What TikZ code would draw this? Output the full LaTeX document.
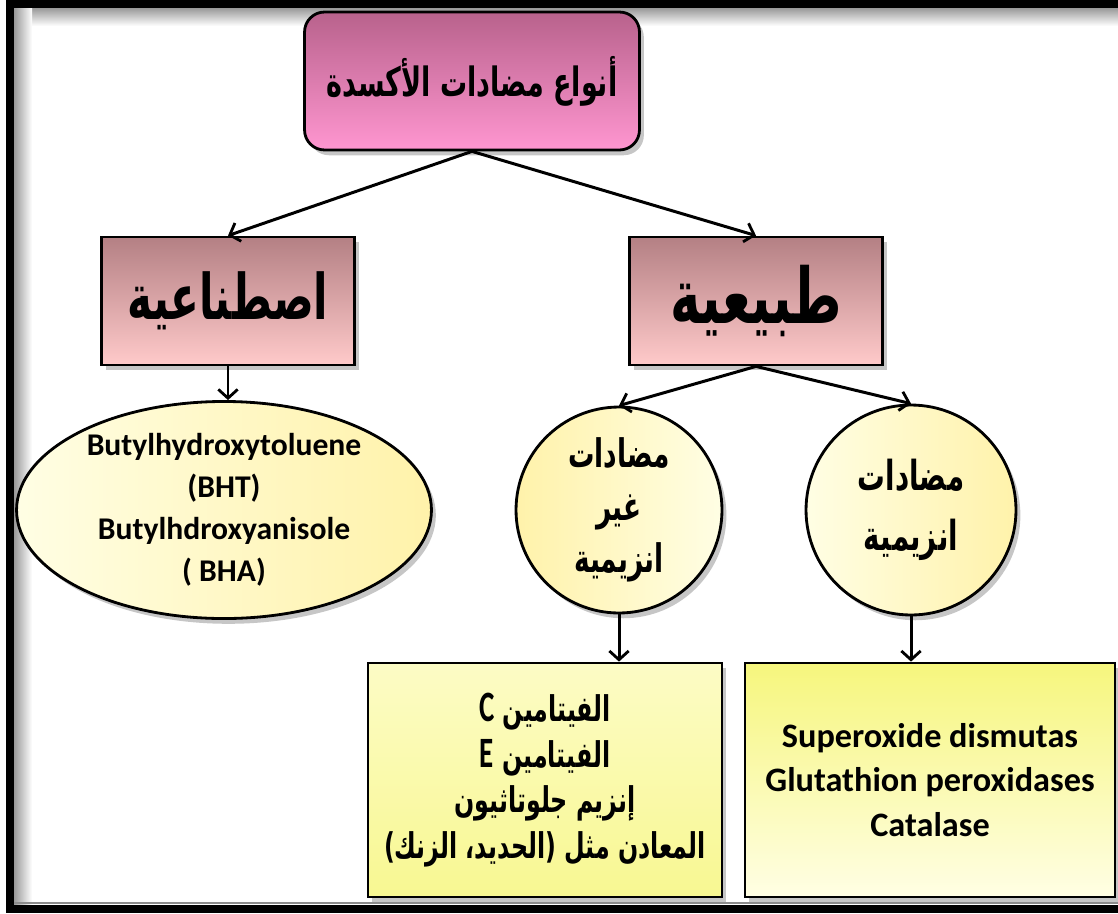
\documentclass[tikz,border=0pt]{standalone}
\usepackage{graphicx}
\usepackage{fontspec}
\setmainfont{Carlito}
\newfontfamily\arabicfont[Script=Arabic]{DejaVu Sans}
\TeXXeTstate=1
\usetikzlibrary{shapes.geometric, arrows.meta, shadows}

\definecolor{titletop}{RGB}{184,98,140}
\definecolor{titlebot}{RGB}{255,150,208}
\definecolor{kindtop}{RGB}{180,128,132}
\definecolor{kindbot}{RGB}{255,202,202}
\definecolor{paleyel}{RGB}{255,254,228}
\definecolor{midyel}{RGB}{255,242,170}
\definecolor{boxyel}{RGB}{246,246,125}

\newcommand{\ar}[1]{\scalebox{0.75}[1.12]{\arabicfont\bfseries\beginR #1\endR}}

\begin{document}
\begin{tikzpicture}[
        x=0.02cm, y=-0.02cm,
        >={Straight Barb[length=5pt, width=11pt, line width=1.6pt]},
        link/.style={->, line width=1.7pt},
        shadowed/.style={drop shadow={shadow xshift=2.5pt, shadow yshift=-3pt, opacity=0.45}},
        headbox/.style={draw, line width=1.6pt, rectangle, rounded corners=0.4cm, shadowed,
            top color=titletop, bottom color=titlebot, minimum width=6.7cm, minimum height=2.76cm},
        kindbox/.style={draw, line width=1.6pt, rectangle, shadowed,
            top color=kindtop, bottom color=kindbot, minimum width=5.06cm, minimum height=2.56cm},
        blob/.style={draw, line width=1.6pt, shadowed, align=center, inner sep=0pt},
        listbox/.style={draw, line width=1.6pt, rectangle, shadowed, align=center,
            inner sep=2pt, minimum height=4.68cm},
    ]

    \useasboundingbox (0,0) rectangle (1118,913);

    % Frame
    \shade[top color=black!40, bottom color=white] (14,8) rectangle (1118,26);
    \shade[left color=black!40, right color=white] (14,8) rectangle (32,905);
    \draw[black!45, line width=0.8pt] (14,903) -- (1118,903);
    \draw[line width=0.16cm] (1120,4) -- (10,4) -- (10,909) -- (1120,909);

    % Nodes
    \node[headbox, font=\fontsize{20.5}{25}\selectfont] (types) at (472,81) {\ar{أنواع مضادات الأكسدة}};

    \node[kindbox, font=\fontsize{32}{40}\selectfont] (synth) at (228,301) {\ar{اصطناعية}};
    \node[kindbox, font=\fontsize{39}{44}\selectfont] (natural) at (756,301) {\ar{طبيعية}};

    \node[blob, ellipse, minimum width=8.3cm, minimum height=4cm,
        left color=paleyel, right color=midyel,
        font=\bfseries\fontsize{18}{24}\selectfont] (ell) at (224,510)
        {Butylhydroxytoluene\\(BHT)\\Butylhdroxyanisole\\( BHA)};

    \node[blob, circle, minimum size=4.12cm, left color=midyel, right color=paleyel,
        font=\fontsize{20}{30}\selectfont] (nonenz) at (619,510)
        {\ar{مضادات}\\\ar{غير}\\\ar{انزيمية}};
    \node[blob, circle, minimum size=4.2cm, left color=paleyel, right color=midyel,
        font=\fontsize{21}{34}\selectfont] (enz) at (911,510)
        {\ar{مضادات}\\\ar{انزيمية}};

    \node[listbox, minimum width=7.08cm, top color=paleyel!70!boxyel, bottom color=boxyel!80!paleyel,
        font=\fontsize{18}{26}\selectfont] (vitamins) at (545,780)
        {\ar{الفيتامين \textrm{\fontsize{22}{26}\selectfont C}}\\\ar{الفيتامين \textrm{\fontsize{22}{26}\selectfont E}}\\\ar{إنزيم جلوتاثيون}\\\ar{المعادن مثل (الحديد، الزنك)}};
    \node[listbox, minimum width=7.4cm, top color=boxyel, bottom color=paleyel,
        font=\bfseries\fontsize{19.5}{25.5}\selectfont] (enzymes) at (930,780)
        {Superoxide dismutas\\Glutathion peroxidases\\Catalase};

    % Edges
    \draw[link] (types.south) -- (synth.north);
    \draw[link] (types.south) -- (natural.north);
    \draw[link] (synth.south) -- (synth.south |- ell.north);
    \draw[link] (natural.south) -- (nonenz.north);
    \draw[link] (natural.south) -- (enz.north);
    \draw[link] (nonenz.south) -- (nonenz.south |- vitamins.north);
    \draw[link] (enz.south) -- (enz.south |- enzymes.north);

\end{tikzpicture}
\end{document}
